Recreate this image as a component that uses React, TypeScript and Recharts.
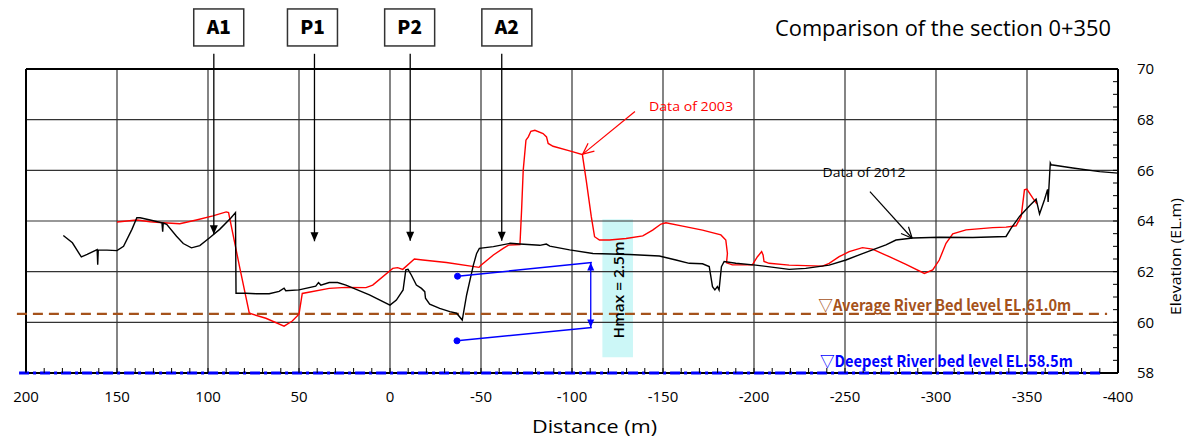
import React from 'react';
import { LineChart, Line, XAxis, YAxis, ReferenceLine, ReferenceArea, ReferenceDot } from 'recharts';

// ---- Data of 2012 (black) ----
const dist2012 = [
  179.5, 174.5, 169.6, 166.4, 160.9, 160.6, 160.3, 155.5, 150.0, 146.4, 141.8, 139.1, 137.3, 131.8,
  125.3, 124.9, 124.6, 122.7, 117.3, 113.6, 109.1, 104.5, 99.1, 93.6, 87.3, 84.9, 84.6, 79.1, 73.6,
  66.4, 60.9, 58.2, 57.3, 50.0, 40.8, 39.3, 38.0, 33.4, 28.8, 24.2, 11.3, 0.0, -3.5, -7.2, -8.7, -9.9,
  -11.7, -14.5, -17.3, -19.1, -19.5, -21.8, -27.3, -32.9, -36.6, -39.7, -42.1, -45.8, -47.6, -49.1,
  -56.8, -66.1, -71.4, -82.3, -85.9, -87.8, -98.7, -111.5, -131.6, -148.0, -157.1, -164.4, -171.7,
  -175.4, -177.2, -178.5, -179.9, -180.8, -182.1, -183.6, -190.0, -200.9, -219.3, -228.4, -241.3,
  -250.5, -257.8, -265.1, -272.5, -278.0, -287.2, -301.8, -320.2, -338.5, -341.3, -345.9, -351.4,
  -355.0, -356.9, -359.6, -361.3, -361.6, -362.8, -363.3, -375.2, -389.9, -400.0,
];
const elev2012 = [
  63.43, 63.14, 62.58, 62.68, 62.87, 62.27, 62.86, 62.85, 62.83, 63.0, 63.67, 64.13, 64.13, 64.04,
  63.93, 63.58, 63.92, 63.87, 63.40, 63.11, 62.94, 63.03, 63.34, 63.67, 64.13, 64.33, 61.15, 61.15, 61.13,
  61.13, 61.22, 61.35, 61.25, 61.28, 61.43, 61.57, 61.47, 61.57, 61.57, 61.47, 61.08, 60.68, 60.88, 61.28, 62.07, 62.09,
  61.87, 61.47, 61.34, 61.21, 60.95, 60.72, 60.55, 60.42, 60.36, 60.09, 61.08, 62.26, 62.72, 62.92,
  62.99, 63.12, 63.09, 63.04, 63.09, 63.01, 62.86, 62.72, 62.68, 62.62, 62.46, 62.33, 62.31,
  62.2, 61.41, 61.28, 61.41, 61.28, 62.2, 62.4, 62.33, 62.26, 62.09, 62.13, 62.26,
  62.46, 62.66, 62.86, 63.06, 63.25, 63.33, 63.36, 63.35, 63.39, 63.72, 64.18, 64.60,
  64.86, 64.28, 64.84, 65.25, 64.75, 66.29, 66.22, 66.09, 65.95, 65.89,
];

// ---- Data of 2003 (red) ----
const dist2003 = [
  150.0, 139.1, 131.8, 124.5, 115.5, 106.4, 97.3, 90.0, 88.7, 82.7, 77.3, 68.2, 58.2, 53.7, 50.0,
  48.2, 33.4, 24.2, 13.2, 9.5, -1.5, -4.2, -7.0, -13.4, -18.0, -31.0, -48.9, -49.8, -56.8, -62.2,
  -65.1, -71.4, -72.3, -73.2, -74.7, -76.0, -77.4, -79.6, -84.1, -86.0, -86.9, -89.6, -98.7, -105.7,
  -107.8, -110.6, -112.4, -115.1, -120.6, -129.7, -138.9, -144.3, -148.9, -151.6, -160.8, -171.7,
  -181.8, -184.5, -185.4, -184.9, -188.1, -199.1, -201.9, -204.2, -205.0, -205.5, -208.3, -219.3,
  -237.6, -241.3, -246.8, -252.3, -259.6, -265.1, -274.3, -283.5, -293.6, -298.2, -301.8, -305.5,
  -309.2, -316.5, -331.2, -338.5, -344.0, -346.8, -348.6, -349.9, -353.2, -355.4,
];
const elev2003 = [
  63.96, 64.04, 63.97, 63.93, 63.89, 64.04, 64.2, 64.36, 64.33, 62.21, 60.36, 60.16, 59.85, 60.05, 60.32,
  61.14, 61.34, 61.38, 61.37, 61.47, 62.13, 62.16, 62.09, 62.5, 62.46, 62.36, 62.17, 62.24, 62.66, 62.92,
  63.05, 63.07, 64.43, 66.01, 67.19, 67.32, 67.54, 67.58, 67.45, 67.32, 67.06, 66.95, 66.77, 66.62,
  65.61, 64.17, 63.38, 63.25, 63.25, 63.31, 63.41, 63.64, 63.88, 63.93, 63.80, 63.64,
  63.45, 63.25, 62.72, 62.35, 62.27, 62.27, 62.59, 62.79, 62.66, 62.40, 62.33, 62.26,
  62.22, 62.33, 62.59, 62.79, 62.95, 62.89, 62.59, 62.29, 61.93, 62.07, 62.46, 63.12,
  63.49, 63.65, 63.74, 63.76, 63.81, 64.18, 65.23, 65.26, 64.90, 64.68,
];

// ---- Axes ----
const xMajorTicks = [200, 150, 100, 50, 0, -50, -100, -150, -200, -250, -300, -350, -400];
const yMajorTicks = [58, 60, 62, 64, 66, 68, 70];
const gridX = [150, 100, 50, 0, -50, -100, -150, -200, -250, -300, -350];
const gridY = [60, 62, 64, 66, 68];

// ---- Piers / abutments ----
const pierNames = ['A1', 'P1', 'P2', 'A2'];
const pierBoxX = [94.1, 42.6, -10.8, -64.2];
const pierArrowX = [96.8, 41.5, -11.1, -61.4];
const pierArrowTip = [63.48, 63.2, 63.22, 63.22];
const pierBoxElev = 71.64;
const pierArrowTopElev = 70.6;

// ---- River bed levels ----
const avgBedLabel = '▽Average River Bed level EL.61.0m';
const avgBedElev = 60.33;
const avgBedFrom = 205;
const avgBedTo = -394;
const avgBedLabelPos = [-235.3, 60.46];
const deepBedLabel = '▽Deepest River bed level EL.58.5m';
const deepBedElev = 58.0;
const deepBedFrom = 203.8;
const deepBedTo = -391.8;
const deepBedLabelPos = [-236.2, 58.245];

// ---- Hmax annotation ----
const hmaxLabel = 'Hmax = 2.5m';
const hmaxUpper = [[-37.1, 61.82], [-110.9, 62.36]];
const hmaxLower = [[-36.8, 59.27], [-110.9, 59.8]];
const hmaxArrowX = -110.3;
const hmaxBoxX = [-116.7, -133.5];
const hmaxBoxY = [58.62, 64.07];
const hmaxLabelPos = [-125.1, 61.28];

// ---- Series annotations ----
const label2003 = 'Data of 2003';
const label2003Pos = [-142.3, 68.35];
const arrow2003 = [[-134.6, 68.32], [-105.9, 66.64]];
const label2012 = 'Data of 2012';
const label2012Pos = [-237.7, 65.73];
const arrow2012 = [[-263.7, 65.16], [-286.9, 63.32]];

const data2012 = dist2012.map((d, i) => ({ d, e: elev2012[i] }));
const data2003 = dist2003.map((d, i) => ({ d, e: elev2003[i] }));

const xTicks: number[] = [];
for (let v = 200; v >= -400; v -= 10) xTicks.push(v);
const yTicks: number[] = [];
for (let v = 58; v <= 70.001; v += 0.5) yTicks.push(Math.round(v * 10) / 10);

const FONT = "'Open Sans', 'Noto Sans', sans-serif";
const GOTHIC = "'Noto Sans CJK JP', 'Noto Sans', sans-serif";
const BROWN = '#A5521B';
const BLUE = '#0000FF';

function headPts(x1: number, y1: number, x2: number, y2: number, len: number, half: number) {
  const a = Math.atan2(y2 - y1, x2 - x1);
  const bx = x2 - len * Math.cos(a);
  const by = y2 - len * Math.sin(a);
  const px = -Math.sin(a) * half;
  const py = Math.cos(a) * half;
  return { bx, by, px, py };
}

function filledArrow(color: string, sw: number, len: number, half: number, both = false) {
  return (p: any) => {
    const { x1, y1, x2, y2 } = p;
    const h = headPts(x1, y1, x2, y2, len, half);
    const h2 = headPts(x2, y2, x1, y1, len, half);
    return (
      <g>
        <line x1={x1} y1={y1} x2={x2} y2={y2} stroke={color} strokeWidth={sw} />
        <polygon points={`${x2},${y2} ${h.bx + h.px},${h.by + h.py} ${h.bx - h.px},${h.by - h.py}`} fill={color} />
        {both && (
          <polygon points={`${x1},${y1} ${h2.bx + h2.px},${h2.by + h2.py} ${h2.bx - h2.px},${h2.by - h2.py}`} fill={color} />
        )}
      </g>
    );
  };
}

function openArrow(color: string, sw: number, len: number, half: number) {
  return (p: any) => {
    const { x1, y1, x2, y2 } = p;
    const h = headPts(x1, y1, x2, y2, len, half);
    return (
      <g fill="none" stroke={color} strokeWidth={sw}>
        <line x1={x1} y1={y1} x2={x2} y2={y2} />
        <line x1={x2} y1={y2} x2={h.bx + h.px} y2={h.by + h.py} />
        <line x1={x2} y1={y2} x2={h.bx - h.px} y2={h.by - h.py} />
      </g>
    );
  };
}

function textShape(text: string, color: string, size: number, len: number, family: string, weight: any = 'normal') {
  return (p: any) => (
    <text x={p.cx} y={p.cy} fill={color} fontSize={size} fontFamily={family} fontWeight={weight}
      textLength={len} lengthAdjust="spacingAndGlyphs">{text}</text>
  );
}

function boxShape(name: string) {
  return (p: any) => (
    <g>
      <rect x={p.cx - 25} y={p.cy - 18.5} width={50} height={37} fill="#fff" stroke="#333" strokeWidth={1.5} />
      <text x={p.cx} y={p.cy + 7} textAnchor="middle" fontSize={19} fontWeight={900} fontFamily={GOTHIC} fill="#000">{name}</text>
    </g>
  );
}

const hmaxTextShape = (p: any) => (
  <text x={p.cx} y={p.cy} transform={`rotate(-90 ${p.cx} ${p.cy})`} textAnchor="middle" dominantBaseline="central"
    fontSize={15} fontWeight={600} fontFamily={FONT} fill="#000" textLength={97} lengthAdjust="spacingAndGlyphs">{hmaxLabel}</text>
);

export default function App() {
  return (
    <div style={{ position: 'absolute', left: 0, top: 0, width: 1188, height: 442, background: '#fff' }}>
      <svg width={1188} height={60} style={{ position: 'absolute', left: 0, top: 0 }}>
        <text x={775} y={36} fontSize={21} fontFamily={FONT} fill="#000" textLength={336} lengthAdjust="spacingAndGlyphs">
          Comparison of the section 0+350
        </text>
      </svg>
      <div style={{ position: 'absolute', left: 0, top: 0 }}>
        <LineChart width={1188} height={442} margin={{ top: 69, right: 10, bottom: 9, left: 26 }}>
          <ReferenceArea x1={hmaxBoxX[0]} x2={hmaxBoxX[1]} y1={hmaxBoxY[0]} y2={hmaxBoxY[1]} fill="#CCF7F7" fillOpacity={1} stroke="none" />
          {gridX.map((v) => (
            <ReferenceLine key={'gx' + v} x={v} stroke="#333" strokeWidth={1.2} />
          ))}
          {gridY.map((v) => (
            <ReferenceLine key={'gy' + v} y={v} stroke="#333" strokeWidth={1.2} />
          ))}
          <ReferenceLine y={70} stroke="#000" strokeWidth={2} />
          <ReferenceLine x={200} stroke="#000" strokeWidth={2} />
          <ReferenceLine y={58} stroke="#000" strokeWidth={2} />
          <XAxis dataKey="d" type="number" domain={[-400, 200]} reversed allowDataOverflow ticks={xTicks} interval={0}
            tickFormatter={(v: number) => (xMajorTicks.includes(v) ? String(v) : '')}
            tickSize={-5} tickMargin={23.5} height={60}
            axisLine={false} tickLine={{ stroke: '#000', strokeWidth: 1 }}
            tick={{ fill: '#000', fontSize: 15, fontFamily: FONT }}
            label={{
              content: () => (
                <text x={532} y={433} fontSize={19} fontFamily={FONT} fill="#000" textLength={125} lengthAdjust="spacingAndGlyphs">Distance (m)</text>
              ),
            }}
          />
          <YAxis type="number" orientation="right" domain={[58, 70]} allowDataOverflow ticks={yTicks} interval={0}
            tickFormatter={(v: number) => (yMajorTicks.includes(v) ? String(v) : '')}
            tickSize={-5} tickMargin={24} width={60}
            axisLine={{ stroke: '#000', strokeWidth: 2 }} tickLine={{ stroke: '#000', strokeWidth: 1 }}
            tick={{ fill: '#000', fontSize: 15, fontFamily: FONT }}
            label={{
              content: () => (
                <text x={1175} y={256.5} transform="rotate(-90 1175 256.5)" textAnchor="middle" dominantBaseline="central"
                  fontSize={14} fontFamily={FONT} fill="#000" textLength={117} lengthAdjust="spacingAndGlyphs">Elevation (EL.m)</text>
              ),
            }}
          />
          <ReferenceLine segment={[{ x: avgBedFrom, y: avgBedElev }, { x: avgBedTo, y: avgBedElev }]} ifOverflow="visible"
            stroke={BROWN} strokeWidth={2.2} strokeDasharray="10 6" />
          <ReferenceLine segment={[{ x: deepBedFrom, y: deepBedElev }, { x: deepBedTo, y: deepBedElev }]} ifOverflow="visible"
            stroke={BLUE} strokeWidth={3} strokeDasharray="10 4 3 4" />
          <Line data={data2003} dataKey="e" type="linear" stroke="#FF0000" strokeWidth={1.4} dot={false} isAnimationActive={false} />
          <Line data={data2012} dataKey="e" type="linear" stroke="#000000" strokeWidth={1.4} dot={false} isAnimationActive={false} />

          {pierNames.map((n, i) => (
            <ReferenceLine key={'pa' + n} ifOverflow="visible"
              segment={[{ x: pierArrowX[i], y: pierArrowTopElev }, { x: pierArrowX[i], y: pierArrowTip[i] }]}
              shape={filledArrow('#000', 1.3, 9, 4)} />
          ))}
          {pierNames.map((n, i) => (
            <ReferenceDot key={'pb' + n} x={pierBoxX[i]} y={pierBoxElev} ifOverflow="visible" shape={boxShape(n)} />
          ))}

          <ReferenceLine ifOverflow="visible" segment={[{ x: hmaxUpper[0][0], y: hmaxUpper[0][1] }, { x: hmaxUpper[1][0], y: hmaxUpper[1][1] }]}
            stroke={BLUE} strokeWidth={1.5} />
          <ReferenceLine ifOverflow="visible" segment={[{ x: hmaxLower[0][0], y: hmaxLower[0][1] }, { x: hmaxLower[1][0], y: hmaxLower[1][1] }]}
            stroke={BLUE} strokeWidth={1.5} />
          <ReferenceDot x={hmaxUpper[0][0]} y={hmaxUpper[0][1]} r={3} fill={BLUE} stroke={BLUE} />
          <ReferenceDot x={hmaxLower[0][0]} y={hmaxLower[0][1]} r={3} fill={BLUE} stroke={BLUE} />
          <ReferenceLine ifOverflow="visible" segment={[{ x: hmaxArrowX, y: hmaxLower[1][1] }, { x: hmaxArrowX, y: hmaxUpper[1][1] }]}
            shape={filledArrow(BLUE, 1.3, 8, 3.5, true)} />
          <ReferenceDot x={hmaxLabelPos[0]} y={hmaxLabelPos[1]} ifOverflow="visible" shape={hmaxTextShape} />

          <ReferenceDot x={avgBedLabelPos[0]} y={avgBedLabelPos[1]} ifOverflow="visible"
            shape={textShape(avgBedLabel, BROWN, 16, 253, GOTHIC, 'bold')} />
          <ReferenceDot x={deepBedLabelPos[0]} y={deepBedLabelPos[1]} ifOverflow="visible"
            shape={textShape(deepBedLabel, BLUE, 16, 253, GOTHIC, 'bold')} />

          <ReferenceLine ifOverflow="visible" segment={[{ x: arrow2003[0][0], y: arrow2003[0][1] }, { x: arrow2003[1][0], y: arrow2003[1][1] }]}
            shape={openArrow('#FF0000', 1.2, 11, 5)} />
          <ReferenceDot x={label2003Pos[0]} y={label2003Pos[1]} ifOverflow="visible"
            shape={textShape(label2003, '#FF0000', 13, 84, FONT)} />
          <ReferenceLine ifOverflow="visible" segment={[{ x: arrow2012[0][0], y: arrow2012[0][1] }, { x: arrow2012[1][0], y: arrow2012[1][1] }]}
            shape={openArrow('#000', 1.2, 11, 5)} />
          <ReferenceDot x={label2012Pos[0]} y={label2012Pos[1]} ifOverflow="visible"
            shape={textShape(label2012, '#000', 13, 83, FONT)} />
        </LineChart>
      </div>
    </div>
  );
}
